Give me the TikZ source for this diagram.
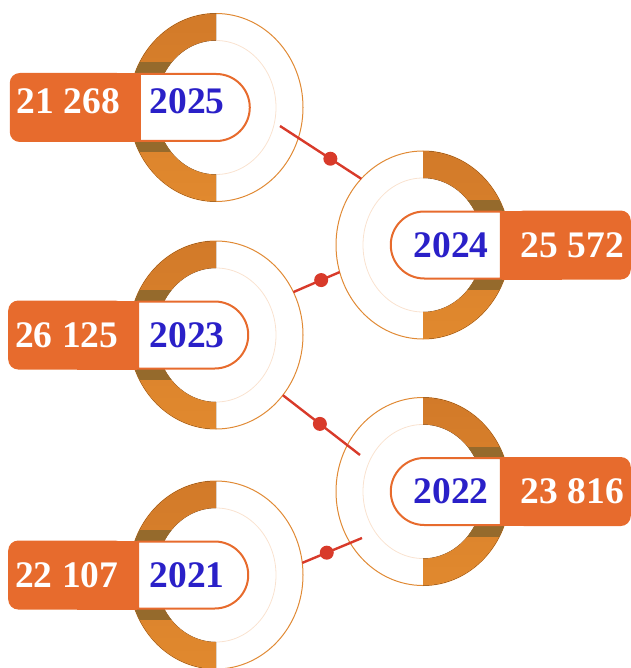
\documentclass[tikz,border=0pt]{standalone}
\usepackage{fontspec}
\setmainfont{Liberation Serif}
\usetikzlibrary{calc,positioning,shapes.geometric,shapes.misc}
\definecolor{boxorange}{HTML}{E76B2D}
\definecolor{ringtop}{HTML}{D27A29}
\definecolor{ringbot}{HTML}{E1892E}
\definecolor{ringdark}{HTML}{956A2C}
\definecolor{yearblue}{HTML}{2A20C8}
\definecolor{linkred}{HTML}{D83A2A}
\definecolor{rimline}{HTML}{E08A35}
\definecolor{innerline}{HTML}{F9E2D0}
\tikzset{
  rim/.style={ellipse,draw=rimline,line width=1pt,minimum width=174pt,
    minimum height=188pt,inner sep=0pt,outer sep=0pt},
  inner rim/.style={draw=innerline,line width=0.8pt},
  big/.style={font=\bfseries\fontsize{37.5}{37.5}\selectfont},
  valbox/.style={big,rectangle,rounded corners=10pt,fill=boxorange,text=white,
    minimum height=69pt,minimum width=117pt,inner sep=0pt,outer sep=0pt},
  yearbox/.style={big,rounded rectangle,draw=boxorange,line width=2pt,fill=white,
    text=yearblue,minimum height=67pt,minimum width=110pt,inner sep=0pt},
  yearL/.style={yearbox,rounded rectangle west arc=none,
    execute at begin node={\hspace*{-10pt}}},
  yearR/.style={yearbox,rounded rectangle east arc=none,
    execute at end node={\hspace*{-8pt}}},
  raised/.style={text depth=12pt},
  link/.style={draw=linkred,line width=2.4pt},
  dot/.style={circle,fill=linkred,inner sep=0pt,minimum size=14pt}
}
% half ring: #1 circle node, #2 start angle, #3 end angle
\newcommand{\yearring}[3]{%
  \draw[inner rim] (#1) ellipse [x radius=60,y radius=67];
  \fill[top color=ringtop,bottom color=ringbot]
    ($(#1)+(0,-94)$) arc[start angle=#2,end angle=#3,x radius=87,y radius=94]
    -- ($(#1)+(0,67)$) arc[start angle=#3,end angle=#2,x radius=60,y radius=67]
    -- cycle;
  \begin{scope}
    \clip ($(#1)+(0,-94)$) arc[start angle=#2,end angle=#3,x radius=87,y radius=94]
      -- ($(#1)+(0,67)$) arc[start angle=#3,end angle=#2,x radius=60,y radius=67]
      -- cycle;
    \fill[ringdark] ($(#1)+(-100,-45)$) rectangle ($(#1)+(100,45)$);
  \end{scope}
}

\begin{document}
\begin{tikzpicture}[x=1pt,y=-1pt]
  \useasboundingbox (0,0) rectangle (630,668);

  % circles
  \node[rim] (c25) at (216,107.5) {};
  \node[rim] (c24) at (423,245) {};
  \node[rim] (c23) at (216,335) {};
  \node[rim] (c22) at (423,491.5) {};
  \node[rim] (c21) at (216,575) {};

  \yearring{c25}{270}{90}
  \yearring{c24}{-90}{90}
  \yearring{c23}{270}{90}
  \yearring{c22}{-90}{90}
  \yearring{c21}{270}{90}

  % left labels
  \node[yearL,raised] (y25) at (192,107.5) {2025};
  \fill[boxorange] ($(y25.north west)+(-60,0)$) rectangle (y25.south west);
  \node[valbox,raised,left=12pt of y25] (v25) {21 268};
  \node[yearL] (y23) at (192,335) {2023};
  \fill[boxorange] ($(y23.north west)+(-60,0)$) rectangle (y23.south west);
  \node[valbox,left=12pt of y23] (v23) {26 125};
  \node[yearL] (y21) at (192,575) {2021};
  \fill[boxorange] ($(y21.north west)+(-60,0)$) rectangle (y21.south west);
  \node[valbox,left=12pt of y21] (v21) {22 107};
  % right labels
  \node[yearR] (y24) at (447,245) {2024};
  \fill[boxorange] (y24.north east) rectangle ($(y24.south east)+(60,0)$);
  \node[valbox,right=12pt of y24] (v24) {25 572};
  \node[yearR] (y22) at (447,491.5) {2022};
  \fill[boxorange] (y22.north east) rectangle ($(y22.south east)+(60,0)$);
  \node[valbox,right=12pt of y22] (v22) {23 816};

  % links
  \coordinate (l1s) at (280,126);
  \coordinate (l3e) at (360,455);
  \coordinate (l4e) at (362,538);
  \draw[link] (l1s) -- node[dot,pos=0.62] (d1) {} (c24.133);
  \draw[link] (c23.29) -- node[dot,pos=0.6] (d2) {} (c24.198);
  \draw[link] (c23.-42) -- node[dot,pos=0.48] (d3) {} (l3e);
  \draw[link] (c21.8) -- node[dot,pos=0.41] (d4) {} (l4e);
\end{tikzpicture}
\end{document}
